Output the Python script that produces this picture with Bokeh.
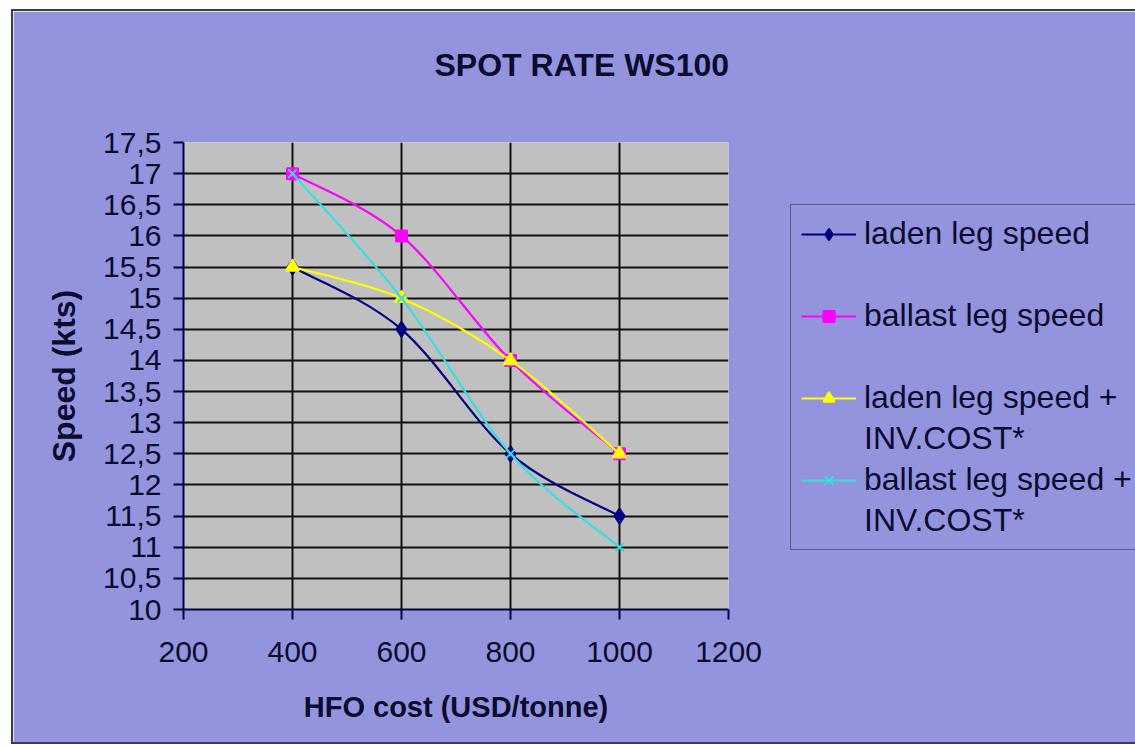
from bokeh.plotting import figure
from bokeh.models import FixedTicker, Legend, LegendItem, Range1d
from bokeh.embed import file_html
from bokeh.resources import INLINE

# HFO price (USD/tonne) and the resulting optimal speeds (kts)
hfo_cost = [400, 600, 800, 1000]
laden_speed = [15.5, 14.5, 12.5, 11.5]
ballast_speed = [17, 16, 14, 12.5]
laden_inv_speed = [15.5, 15, 14, 12.5]
ballast_inv_speed = [17, 15, 12.5, 11]

x_ticks = [200, 400, 600, 800, 1000, 1200]
y_ticks = [10, 10.5, 11, 11.5, 12, 12.5, 13, 13.5, 14, 14.5, 15, 15.5, 16, 16.5, 17, 17.5]
y_tick_labels = ["10", "10,5", "11", "11,5", "12", "12,5", "13", "13,5", "14",
                 "14,5", "15", "15,5", "16", "16,5", "17", "17,5"]

# legend text, one list entry per printed line of each series name
series_names = [["laden leg speed"], ["ballast leg speed"],
                ["laden leg speed +", "INV.COST*"], ["ballast leg speed +", "INV.COST*"]]

FONT = "Liberation Sans"
INK = "#0b0b30"
CHART_BG = "#9494DE"


def smooth_segments(xs, ys, t=1.0 / 6.0):
    """Cubic Bezier pieces through the points (Catmull-Rom style smoothing)."""
    n = len(xs)
    seg = dict(x0=[], y0=[], x1=[], y1=[], cx0=[], cy0=[], cx1=[], cy1=[])
    for i in range(n - 1):
        xp, yp = (xs[i - 1], ys[i - 1]) if i > 0 else (xs[i], ys[i])
        xn, yn = (xs[i + 2], ys[i + 2]) if i + 2 < n else (xs[i + 1], ys[i + 1])
        seg["x0"].append(xs[i])
        seg["y0"].append(ys[i])
        seg["x1"].append(xs[i + 1])
        seg["y1"].append(ys[i + 1])
        seg["cx0"].append(xs[i] + (xs[i + 1] - xp) * t)
        seg["cy0"].append(ys[i] + (ys[i + 1] - yp) * t)
        seg["cx1"].append(xs[i + 1] - (xn - xs[i]) * t)
        seg["cy1"].append(ys[i + 1] - (yn - ys[i]) * t)
    return seg


p = figure(width=1120, height=731, frame_width=545, frame_height=467,
           x_range=Range1d(200, 1200), y_range=Range1d(10, 17.5),
           output_backend="svg", toolbar_location=None,
           min_border_left=170, min_border_right=405,
           min_border_top=131, min_border_bottom=133,
           background_fill_color="#C0C0C0", border_fill_color=CHART_BG,
           outline_line_color=None)
p.margin = (9, 0, 5, 11)
p.styles = {"border": "2px solid #3c3c50"}

# title, shifted towards the middle of the whole chart area; the empty
# second line lifts it higher above the plot area
p.title.text = "SPOT RATE WS100\n "
p.title.align = "left"
p.title.vertical_align = "top"
p.title.offset = 251
p.title.standoff = 44
p.title.text_font = FONT
p.title.text_font_size = "32px"
p.title.text_font_style = "bold"
p.title.text_color = INK

# axes
p.xaxis.ticker = FixedTicker(ticks=x_ticks)
p.yaxis.ticker = FixedTicker(ticks=y_ticks)
p.yaxis.major_label_overrides = {t: s for t, s in zip(y_ticks, y_tick_labels)}
p.xaxis.major_label_overrides = {t: str(t) for t in x_ticks}

for ax in (p.xaxis[0], p.yaxis[0]):
    ax.axis_line_color = "#000040"
    ax.axis_line_width = 2
    ax.major_tick_line_color = "#000040"
    ax.major_tick_line_width = 2
    ax.major_tick_in = 0
    ax.major_tick_out = 10
    ax.minor_tick_line_color = None
    ax.major_label_text_font = FONT
    ax.major_label_text_font_size = "30px"
    ax.major_label_text_color = INK
    ax.axis_label_text_font = FONT
    ax.axis_label_text_font_style = "bold"
    ax.axis_label_text_color = INK

p.xaxis.axis_label = "HFO cost (USD/tonne)"
p.yaxis.axis_label = "Speed (kts)"
p.xaxis.axis_label_text_font_size = "29px"
p.yaxis.axis_label_text_font_size = "32px"
p.xaxis.major_label_standoff = 22
p.xaxis.axis_label_standoff = 26
p.yaxis.major_label_standoff = 12
p.yaxis.axis_label_standoff = 18

# grid
p.xgrid.ticker = FixedTicker(ticks=[400, 600, 800, 1000])
p.ygrid.ticker = FixedTicker(ticks=y_ticks)
for g in (p.xgrid[0], p.ygrid[0]):
    g.grid_line_color = "#111111"
    g.grid_line_width = 2

# series
series = [
    (laden_speed, "#000080", "diamond", 15),
    (ballast_speed, "#FF00FF", "square", 11),
    (laden_inv_speed, "#FFFF00", "triangle", 13),
    (ballast_inv_speed, "#33E0E0", "x", 12),
]

# an invisible renderer lets extra legend rows hold a second text line or a gap
blank = p.scatter(x=[], y=[], size=0, fill_alpha=0, line_alpha=0)

items = []
for (ys, color, marker, size), lines in zip(series, series_names):
    seg = smooth_segments(hfo_cost, ys)
    curve = p.bezier(x0="x0", y0="y0", x1="x1", y1="y1",
                     cx0="cx0", cy0="cy0", cx1="cx1", cy1="cy1",
                     source=seg, line_color=color, line_width=2.2)
    pts = p.scatter(hfo_cost, ys, marker=marker, size=size,
                    fill_color=color, line_color=color, line_width=2)
    items.append(LegendItem(label=lines[0], renderers=[curve, pts]))
    for extra in lines[1:]:
        items.append(LegendItem(label=extra, renderers=[blank]))
    if len(lines) == 1:
        # single-line names are followed by an empty row
        items.append(LegendItem(label=" ", renderers=[blank]))

legend = Legend(items=items, location="top_left",
                label_text_font=FONT, label_text_font_size="32px",
                label_text_color=INK,
                glyph_width=55, glyph_height=28, label_height=37, label_standoff=8,
                padding=10, spacing=4, margin=62,
                border_line_color="#202040", border_line_width=1.5,
                background_fill_alpha=0)
p.add_layout(legend, "right")

open("out.html", "w").write(file_html(p, INLINE))
